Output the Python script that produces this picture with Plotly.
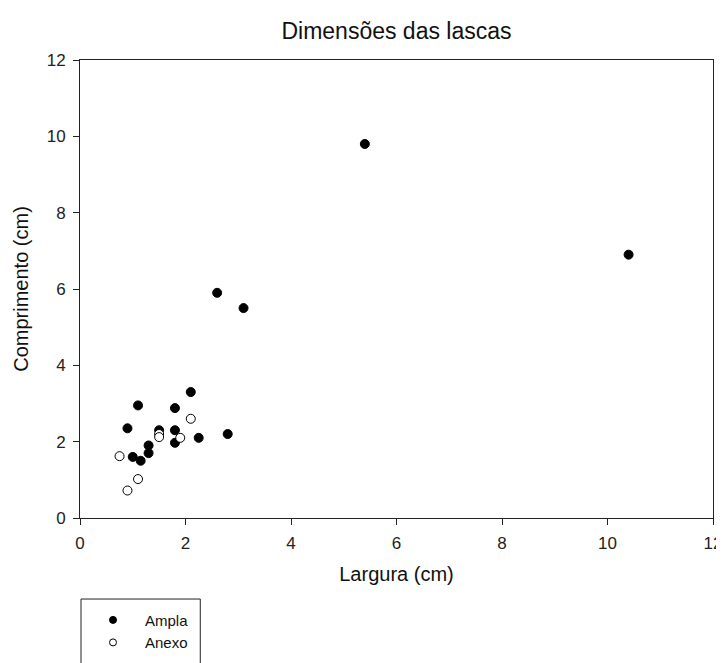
import plotly.graph_objects as go

ampla_x = [5.4, 10.4, 2.6, 3.1, 2.1, 1.1, 1.8, 0.9, 1.8, 1.8, 2.25, 2.8, 1.3, 1.3, 1.0, 1.15, 1.5]
ampla_y = [9.8, 6.9, 5.9, 5.5, 3.3, 2.95, 2.88, 2.35, 2.3, 1.97, 2.1, 2.2, 1.9, 1.7, 1.6, 1.5, 2.3]

anexo_x = [2.1, 1.9, 1.5, 1.5, 0.75, 1.1, 0.9]
anexo_y = [2.6, 2.1, 2.2, 2.12, 1.62, 1.02, 0.72]

x_ticks = [0, 2, 4, 6, 8, 10, 12]
y_ticks = [0, 2, 4, 6, 8, 10, 12]

FONT = "Liberation Sans, Arial"

fig = go.Figure()
fig.add_trace(go.Scatter(
    x=ampla_x, y=ampla_y, mode="markers", name="Ampla", showlegend=False,
    marker=dict(symbol="circle", size=9, color="black", line=dict(color="black", width=1)),
))
fig.add_trace(go.Scatter(
    x=anexo_x, y=anexo_y, mode="markers", name="Anexo", showlegend=False,
    marker=dict(symbol="circle", size=9, color="white", line=dict(color="black", width=1)),
))
# legend entries (no data, legend symbols only)
fig.add_trace(go.Scatter(
    x=[None], y=[None], mode="markers", name="Ampla",
    marker=dict(symbol="circle", size=7, color="black", line=dict(color="black", width=1)),
))
fig.add_trace(go.Scatter(
    x=[None], y=[None], mode="markers", name="Anexo",
    marker=dict(symbol="circle", size=7, color="white", line=dict(color="black", width=1)),
))

axis_common = dict(
    showgrid=False, zeroline=False, showline=True, linecolor="#222", linewidth=1,
    mirror=True, ticks="outside", ticklen=6, tickcolor="#222",
    ticklabelstandoff=4,
    tickfont=dict(family=FONT, size=17, color="#222"),
)

fig.update_layout(
    width=724, height=663,
    paper_bgcolor="white", plot_bgcolor="white",
    margin=dict(l=72, r=19, t=52, b=153, autoexpand=False),
    title=dict(text="Dimensões das lascas", x=0.5, xref="paper", y=0.965, yref="container",
               yanchor="middle",
               font=dict(family=FONT, size=23, color="#111")),
    xaxis=dict(range=[0, 12], tickvals=x_ticks, **axis_common,
               title=dict(text="Largura (cm)", standoff=14,
                          font=dict(family=FONT, size=20, color="#111"))),
    yaxis=dict(range=[0, 12], tickvals=y_ticks, **axis_common,
               title=dict(text="Comprimento (cm)", standoff=12,
                          font=dict(family=FONT, size=20, color="#111"))),
    showlegend=True,
    legend=dict(x=0.0016, y=-0.187, xanchor="left", yanchor="top",
                borderwidth=0, bgcolor="rgba(0,0,0,0)",
                font=dict(family=FONT, size=15, color="#111"),
                itemwidth=54, tracegroupgap=0),
    shapes=[dict(type="rect", xref="paper", yref="paper",
                 x0=0.0016, x1=0.19, y0=-0.1769, y1=-0.40,
                 line=dict(color="#222", width=1), fillcolor="rgba(0,0,0,0)",
                 layer="below")],
)

fig.write_html("out.html")
